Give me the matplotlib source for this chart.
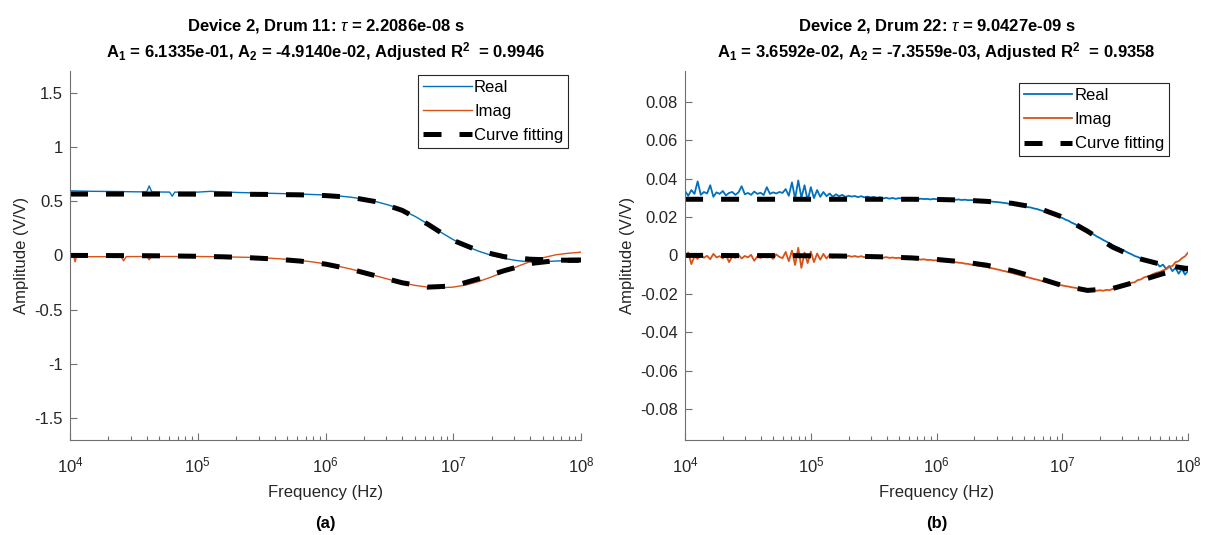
import numpy as np
import matplotlib.pyplot as plt
from matplotlib.ticker import FuncFormatter, NullFormatter, LogLocator

plt.rcParams['font.family'] = ['Liberation Sans', 'DejaVu Sans']
plt.rcParams['mathtext.fontset'] = 'custom'
plt.rcParams['mathtext.rm'] = 'Liberation Sans'
plt.rcParams['mathtext.bf'] = 'Liberation Sans:bold'
plt.rcParams['mathtext.it'] = 'Liberation Sans:italic'
plt.rcParams['axes.unicode_minus'] = False

# ---- (a) Drum 11: measured data (log10 of frequency, V/V)
a_real_logf = [4.0, 4.1, 4.2, 4.3, 4.4, 4.5, 4.6, 4.62, 4.64, 4.7, 4.78, 4.8, 4.82, 4.9,
               5.0, 5.1, 5.2, 5.3, 5.4, 5.5, 5.6, 5.7, 5.8, 5.9, 6.0, 6.1, 6.2, 6.3, 6.4,
               6.5, 6.6, 6.7, 6.8, 6.9, 7.0, 7.1, 7.2, 7.3, 7.4, 7.5, 7.6, 7.7, 7.8, 7.9, 8.0]
a_real = [0.595, 0.592, 0.590, 0.589, 0.588, 0.586, 0.585, 0.640, 0.585, 0.584, 0.583, 0.545,
          0.583, 0.582, 0.583, 0.590, 0.585, 0.580, 0.577, 0.574, 0.571, 0.568, 0.565, 0.561,
          0.556, 0.548, 0.536, 0.518, 0.494, 0.462, 0.418, 0.360, 0.290, 0.215, 0.145, 0.085,
          0.038, 0.000, -0.028, -0.048, -0.060, -0.058, -0.052, -0.046, -0.042]
a_imag_logf = [4.0, 4.03, 4.04, 4.05, 4.2, 4.4, 4.42, 4.44, 4.6, 4.62, 4.64, 4.8, 5.0, 5.2,
               5.4, 5.5, 5.6, 5.7, 5.8, 5.9, 6.0, 6.1, 6.2, 6.3, 6.4, 6.5, 6.6, 6.7, 6.8,
               6.9, 7.0, 7.1, 7.2, 7.3, 7.4, 7.5, 7.6, 7.7, 7.8, 7.9, 8.0]
a_imag = [-0.012, -0.012, -0.060, -0.012, -0.012, -0.011, -0.050, -0.011, -0.010, -0.040,
          -0.010, -0.010, -0.010, -0.013, -0.018, -0.022, -0.028, -0.036, -0.047, -0.060,
          -0.078, -0.100, -0.126, -0.157, -0.190, -0.222, -0.252, -0.276, -0.292, -0.298,
          -0.292, -0.272, -0.240, -0.198, -0.150, -0.102, -0.058, -0.022, 0.005, 0.020, 0.030]

# fitted curves, sampled every 0.2 decade from 1e4 to 1e8
fit_logf = np.linspace(4, 8, 21)
a_fit_real = [0.565, 0.565, 0.565, 0.565, 0.565, 0.564, 0.564, 0.563, 0.561, 0.558, 0.551,
              0.535, 0.494, 0.415, 0.288, 0.138, 0.042, -0.012, -0.035, -0.043, -0.046]
a_fit_imag = [0.0, -0.001, -0.002, -0.003, -0.005, -0.008, -0.013, -0.021, -0.033, -0.052,
              -0.080, -0.128, -0.190, -0.252, -0.292, -0.282, -0.215, -0.140, -0.075, -0.048,
              -0.042]

# ---- (b) Drum 22: measured data every 0.025 decade, in units of 1e-3 V/V
b_logf = np.linspace(4, 8, 161)
b_real_milli = [
    33.5, 31.0, 34.0, 32.0, 38.5, 31.5, 33.0, 32.2, 36.5, 30.5,
    32.8, 32.0, 33.5, 31.2, 32.5, 33.0, 31.5, 32.8, 36.0, 31.8,
    32.5, 31.5, 33.2, 32.0, 32.6, 31.4, 35.5, 32.0, 32.8, 32.2,
    33.0, 32.5, 34.5, 31.0, 38.0, 29.5, 39.0, 30.0, 36.5, 28.5,
    35.5, 29.8, 34.0, 30.5, 33.0, 30.8, 32.2, 30.5, 31.8, 30.8,
    31.5, 30.4, 31.0, 30.6, 30.9, 30.3, 30.8, 30.2, 30.6, 30.0,
    30.4, 29.8, 30.2, 29.6, 30.0, 29.5, 29.9, 29.4, 29.8, 29.6,
    29.3, 29.7, 29.4, 29.6, 29.2, 29.5, 29.3, 29.4, 29.1, 29.4,
    29.2, 29.3, 29.0, 29.3, 29.0, 29.2, 28.9, 29.1, 28.8, 29.0,
    28.7, 28.8, 28.6, 28.6, 28.4, 28.4, 28.2, 28.1, 27.9, 27.8,
    27.6, 27.4, 27.2, 26.9, 26.8, 26.4, 26.2, 25.8, 25.6, 25.1,
    24.9, 24.4, 24.1, 23.5, 23.1, 22.5, 22.0, 21.3, 20.8, 20.0,
    19.5, 18.6, 18.0, 17.0, 16.3, 15.3, 14.5, 13.5, 12.7, 11.6,
    10.9, 9.8, 9.0, 8.0, 7.2, 6.2, 5.4, 4.5, 3.8, 2.8,
    2.2, 1.3, 0.6, -0.3, -0.8, -1.7, -2.0, -3.2, -3.0, -4.5,
    -4.0, -5.8, -4.8, -7.0, -5.5, -8.2, -6.5, -9.5, -7.0, -10.0,
    -8.0]
b_imag_milli = [
    -1.0, 1.5, -4.5, -0.5, -1.8, 0.5, -1.2, -0.2, -2.0, 0.8,
    -1.0, -0.4, -1.5, 0.2, -3.5, -0.6, -1.2, 0.4, -1.6, -0.3,
    -1.0, 0.3, -2.8, -0.5, -1.3, 0.6, -1.0, -0.2, -1.8, 0.5,
    -0.8, -1.4, 1.8, -3.0, 2.5, -5.0, 4.0, -6.5, 1.5, -4.0,
    2.0, -3.5, 1.0, -2.2, 0.8, -1.6, 0.4, -1.2, 0.2, -0.9,
    -0.1, -0.8, -0.2, -0.7, -0.3, -0.8, -0.4, -0.9, -0.5, -1.0,
    -0.6, -1.1, -0.8, -1.2, -0.9, -1.3, -1.1, -1.4, -1.2, -1.6,
    -1.4, -1.8, -1.6, -2.0, -1.8, -2.2, -2.0, -2.4, -2.3, -2.6,
    -2.5, -2.8, -2.8, -3.1, -3.1, -3.4, -3.5, -3.8, -3.9, -4.3,
    -4.4, -4.8, -4.9, -5.3, -5.5, -5.9, -6.1, -6.5, -6.8, -7.2,
    -7.5, -8.0, -8.3, -8.8, -9.1, -9.6, -10.0, -10.5, -10.9, -11.4,
    -11.8, -12.3, -12.6, -13.1, -13.4, -13.9, -14.2, -14.7, -14.9, -15.4,
    -15.6, -16.0, -16.2, -16.6, -16.8, -17.2, -17.3, -17.7, -17.7, -18.1,
    -18.0, -18.4, -18.1, -18.4, -17.9, -18.1, -17.4, -17.4, -16.6, -16.5,
    -15.5, -15.4, -14.2, -14.0, -12.8, -12.5, -11.4, -11.0, -10.4, -9.6,
    -9.0, -8.6, -7.8, -7.2, -6.0, -5.5, -3.5, -3.0, -1.5, -0.5,
    1.5]
b_fit_real_milli = [29.2, 29.2, 29.2, 29.2, 29.2, 29.2, 29.2, 29.2, 29.2, 29.2, 29.1,
                    28.8, 28.1, 27.1, 24.8, 20.0, 12.6, 4.3, -1.5, -4.9, -6.9]
b_fit_imag_milli = [0.0, 0.0, -0.1, -0.1, -0.1, -0.2, -0.3, -0.5, -0.8, -1.3, -2.1,
                    -3.3, -5.1, -7.9, -11.6, -15.7, -18.2, -17.2, -13.5, -9.5, -6.6]

titles = [
    'Device 2, Drum 11: $\\tau$ = 2.2086e-08 s\n'
    'A$_\\mathbf{1}$ = 6.1335e-01, A$_\\mathbf{2}$ = -4.9140e-02, Adjusted R$^\\mathbf{2}$  = 0.9946',
    'Device 2, Drum 22: $\\tau$ = 9.0427e-09 s\n'
    'A$_\\mathbf{1}$ = 3.6592e-02, A$_\\mathbf{2}$ = -7.3559e-03, Adjusted R$^\\mathbf{2}$  = 0.9358',
]
panel_labels = ['(a)', '(b)']

BLUE = '#0072BD'
ORANGE = '#D95319'
GREY = '#262626'

fig = plt.figure(figsize=(12.11, 5.35), dpi=100)
ax_a = fig.add_axes([0.0578, 0.1776, 0.422, 0.690])
ax_b = fig.add_axes([0.5657, 0.1776, 0.4154, 0.690])

fit_f = 10 ** fit_logf
ax_a.plot(10 ** np.array(a_real_logf), a_real, color=BLUE, lw=1.0, label='Real')
ax_a.plot(10 ** np.array(a_imag_logf), a_imag, color=ORANGE, lw=1.0, label='Imag')
ax_a.plot(fit_f, a_fit_real, color='k', lw=3.6, ls=(0, (3.6, 3.6)), label='Curve fitting')
ax_a.plot(fit_f, a_fit_imag, color='k', lw=3.6, ls=(0, (3.6, 3.6)))

b_f = 10 ** b_logf
ax_b.plot(b_f, np.array(b_real_milli) / 1000, color=BLUE, lw=1.3, label='Real')
ax_b.plot(b_f, np.array(b_imag_milli) / 1000, color=ORANGE, lw=1.3, label='Imag')
ax_b.plot(fit_f, np.array(b_fit_real_milli) / 1000, color='k', lw=3.6, ls=(0, (3.6, 3.6)),
          label='Curve fitting')
ax_b.plot(fit_f, np.array(b_fit_imag_milli) / 1000, color='k', lw=3.6, ls=(0, (3.6, 3.6)))

ax_a.set_ylim(-1.70, 1.70)
ax_a.set_yticks(np.arange(-1.5, 1.51, 0.5))
ax_b.set_ylim(-0.096, 0.096)
ax_b.set_yticks(np.arange(-0.08, 0.081, 0.02))

legend_pos = [(0.975, 0.989), (0.962, 0.967)]
for ax, title, plab, lpos in zip([ax_a, ax_b], titles, panel_labels, legend_pos):
    ax.set_xscale('log')
    ax.set_xlim(1e4, 1e8)
    ax.set_xticks([1e4, 1e5, 1e6, 1e7, 1e8])
    ax.xaxis.set_minor_locator(LogLocator(base=10, subs=np.arange(2, 10)))
    ax.xaxis.set_minor_formatter(NullFormatter())
    ax.yaxis.set_major_formatter(FuncFormatter(lambda v, p: '%g' % round(v, 4)))
    for side in ['top', 'right']:
        ax.spines[side].set_visible(False)
    for side in ['left', 'bottom']:
        ax.spines[side].set_color('#707070')
        ax.spines[side].set_linewidth(0.8)
    ax.tick_params(which='both', direction='in', colors='#707070', labelcolor=GREY,
                   labelsize=12, width=0.8)
    ax.tick_params(axis='y', which='major', length=5, pad=5)
    ax.tick_params(axis='x', which='major', length=5, pad=11)
    ax.tick_params(which='minor', length=3)
    ax.set_xlabel('Frequency (Hz)', fontsize=12, color=GREY, labelpad=7)
    ax.set_ylabel('Amplitude (V/V)', fontsize=12, color=GREY)
    ax.set_title(title, fontsize=12, fontweight='bold', color='k', linespacing=1.25, pad=10)
    leg = ax.legend(loc='upper right', bbox_to_anchor=lpos, fontsize=12, fancybox=False,
                    framealpha=1, edgecolor=GREY, handlelength=2.9, handletextpad=0.15,
                    labelspacing=0.55, borderpad=0.3, borderaxespad=0)
    leg.get_frame().set_linewidth(0.8)
    bb = ax.get_position()
    fig.text((bb.x0 + bb.x1) / 2, 0.008, plab, ha='center', va='bottom', fontsize=12,
             fontweight='bold')

fig.savefig('out.png', dpi=100)
